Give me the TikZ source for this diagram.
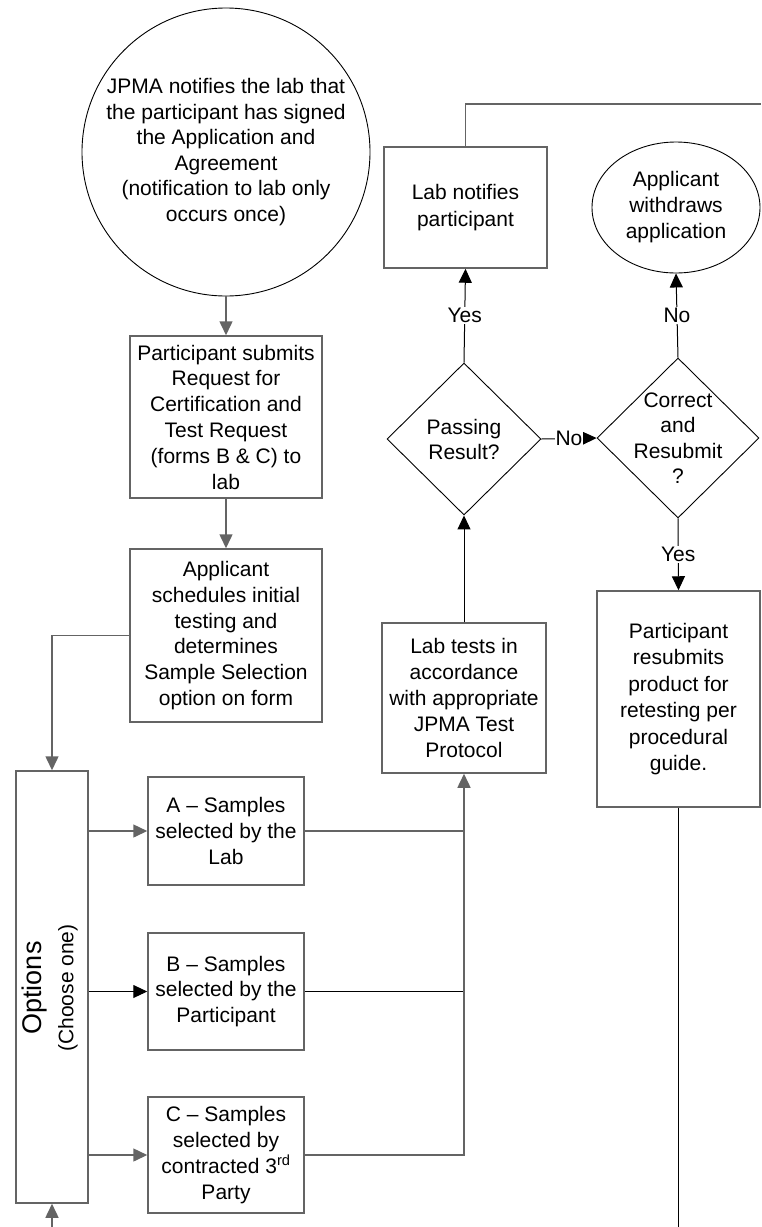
\documentclass[tikz,border=0pt]{standalone}
\usepackage{fontspec}
\setmainfont{Liberation Sans}
\usetikzlibrary{shapes.geometric,arrows.meta}
\definecolor{edgegray}{RGB}{100,100,100}
\tikzset{
  box/.style={draw=edgegray, line width=1.5pt, rectangle, inner sep=0pt, align=center, font=\fontsize{21}{25.8}\selectfont},
  outl/.style={draw=black, line width=0.9pt, inner sep=0pt, align=center, font=\fontsize{21}{25.6}\selectfont},
  gline/.style={draw=edgegray, line width=1.5pt},
  bline/.style={draw=black, line width=1pt},
  tip/.style={-{Triangle[length=14pt,width=13pt]}},
  lbl/.style={fill=white, inner sep=1.5pt, font=\fontsize{21}{24}\selectfont, text=black},
  vtext/.style={rotate=90, inner sep=0pt}
}
\begin{document}
\begin{tikzpicture}[x=1pt,y=-1pt]
\useasboundingbox (0,0) rectangle (761,1227);
% nodes
\node[outl, circle, minimum size=288pt] (circ) at (226,152) {JPMA notifies the lab that\\the participant has signed\\the Application and\\Agreement\\(notification to lab only\\occurs once)};
\node[box, minimum width=192pt, minimum height=162pt] (box1) at (226,417) {Participant submits\\Request for\\Certification and\\Test Request\\(forms B \& C) to\\lab};
\node[box, minimum width=192pt, minimum height=173pt] (box2) at (226,635.5) {Applicant\\schedules initial\\testing and\\determines\\Sample Selection\\option on form};
\node[box, minimum width=72pt, minimum height=432pt] (opts) at (52,987) {};
\node[vtext, font=\fontsize{27}{28}\selectfont] (optstxt) at (35,988) {Options};
\node[vtext, font=\fontsize{21}{22}\selectfont] (choosetxt) at (68,988) {(Choose one)};
\node[box, minimum width=156pt, minimum height=108pt] (boxA) at (226,831) {A -- Samples\\selected by the\\Lab};
\node[box, minimum width=156pt, minimum height=117pt] (boxB) at (226,991.5) {B -- Samples\\selected by the\\Participant};
\node[box, minimum width=156pt, minimum height=116pt] (boxC) at (226,1155) {C -- Samples\\selected by\\contracted 3\textsuperscript{rd}\\Party};
\node[box, minimum width=164pt, minimum height=150pt] (labt) at (464,698) {Lab tests in\\accordance\\with appropriate\\JPMA Test\\Protocol};
\node[outl, diamond, minimum width=154pt, minimum height=152pt, label={[align=center, font=\fontsize{21}{25}\selectfont]center:Passing\\Result?}] (pass) at (464,439) {};
\node[outl, diamond, minimum width=162pt, minimum height=160pt, label={[align=center, font=\fontsize{21}{25.5}\selectfont]center:Correct\\and\\Resubmit\\?}] (corr) at (678,438) {};
\node[box, minimum width=163pt, minimum height=121pt, font=\fontsize{21}{27}\selectfont] (notif) at (465.5,207.5) {Lab notifies\\participant};
\node[outl, ellipse, minimum width=168pt, minimum height=131pt, font=\fontsize{21}{26}\selectfont] (withd) at (676,207.5) {Applicant\\withdraws\\application};
\node[box, minimum width=163pt, minimum height=216pt, font=\fontsize{21}{26.4}\selectfont] (resub) at (678.5,699) {Participant\\resubmits\\product for\\retesting per\\procedural\\guide.};
\coordinate (topright) at (761,104);
\coordinate (botleft) at (52,1227);
\coordinate (botright) at (678.5,1227);
% connectors
\draw[gline, tip] (circ.south) -- (box1.north);
\draw[gline, tip] (box1.south) -- (box2.north);
\draw[gline, tip] (box2.west) -| (opts.north);
\draw[gline, tip] (botleft) -- (opts.south);
\draw[gline, tip] (opts.east |- boxA.west) -- (boxA.west);
\draw[bline, tip] (opts.east |- boxB.west) -- (boxB.west);
\draw[gline, tip] (opts.east |- boxC.west) -- (boxC.west);
\draw[gline] (boxA.east) -- (boxA.east -| labt.south);
\draw[bline] (boxB.east) -- (boxB.east -| labt.south);
\draw[gline, tip] (boxC.east) -| (labt.south);
\draw[bline, tip] (labt.north) -- (pass.south);
\draw[bline, tip] (pass.north) -- node[lbl] (yes1) {Yes} (notif.south);
\draw[gline] (notif.north) |- (topright);
\draw[bline, tip] (pass.east) -- node[lbl, inner sep=0.5pt] (no1) {No} (corr.west);
\draw[bline, tip] (corr.north) -- node[lbl] (no2) {No} (withd.south);
\draw[bline, tip] (corr.south) -- node[lbl] (yes2) {Yes} (resub.north);
\draw[bline] (resub.south) -- (botright);
\end{tikzpicture}
\end{document}
